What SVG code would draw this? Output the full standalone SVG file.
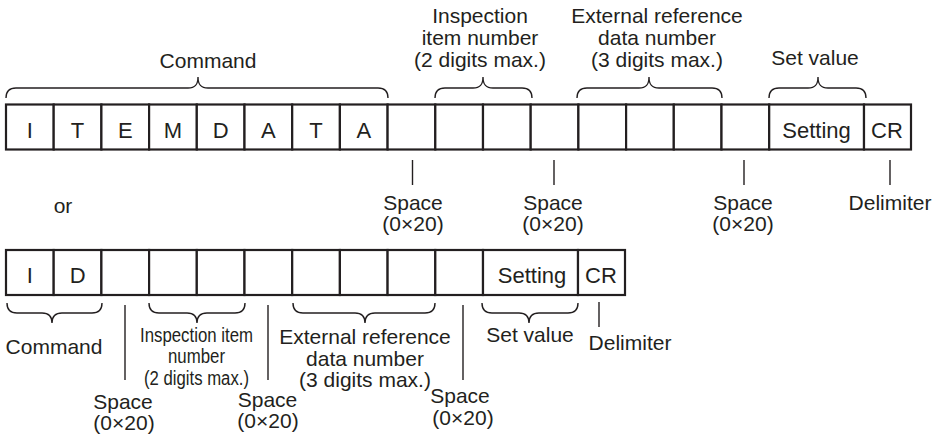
<svg xmlns="http://www.w3.org/2000/svg" width="935" height="440" viewBox="0 0 935 440">
<style>
text{font-family:"Liberation Sans",Arial,sans-serif;font-size:21px;fill:#231f20;text-anchor:middle}
.cell{fill:#fff;stroke:#231f20;stroke-width:2.2}
.ch{font-size:22px}
.br{fill:none;stroke:#231f20;stroke-width:1.4}
.tk{stroke:#231f20;stroke-width:1.4}
.nar{font-size:20px}
</style>
<rect width="935" height="440" fill="#fff"/>
<g id="record-long">
<rect class="cell" x="6" y="104.5" width="47.7" height="45"/>
<rect class="cell" x="53.7" y="104.5" width="47.7" height="45"/>
<rect class="cell" x="101.4" y="104.5" width="47.7" height="45"/>
<rect class="cell" x="149.1" y="104.5" width="47.7" height="45"/>
<rect class="cell" x="196.8" y="104.5" width="47.7" height="45"/>
<rect class="cell" x="244.5" y="104.5" width="47.7" height="45"/>
<rect class="cell" x="292.2" y="104.5" width="47.7" height="45"/>
<rect class="cell" x="339.9" y="104.5" width="47.7" height="45"/>
<rect class="cell" x="387.6" y="104.5" width="47.7" height="45"/>
<rect class="cell" x="435.3" y="104.5" width="47.7" height="45"/>
<rect class="cell" x="483" y="104.5" width="47.7" height="45"/>
<rect class="cell" x="530.7" y="104.5" width="47.7" height="45"/>
<rect class="cell" x="578.4" y="104.5" width="47.7" height="45"/>
<rect class="cell" x="626.1" y="104.5" width="47.7" height="45"/>
<rect class="cell" x="673.8" y="104.5" width="47.7" height="45"/>
<rect class="cell" x="721.5" y="104.5" width="47.7" height="45"/>
<rect class="cell" x="769.2" y="104.5" width="94.8" height="45"/>
<rect class="cell" x="864" y="104.5" width="47" height="45"/>
<text class="ch" x="29.9" y="137.5">I</text>
<text class="ch" x="77.6" y="137.5">T</text>
<text class="ch" x="125.3" y="137.5">E</text>
<text class="ch" x="173" y="137.5">M</text>
<text class="ch" x="220.7" y="137.5">D</text>
<text class="ch" x="268.4" y="137.5">A</text>
<text class="ch" x="316.1" y="137.5">T</text>
<text class="ch" x="363.8" y="137.5">A</text>
<text class="ch" x="816.5" y="138">Setting</text>
<text class="ch" x="887" y="138">CR</text>
</g>
<g id="record-short">
<rect class="cell" x="6" y="250" width="47.7" height="45"/>
<rect class="cell" x="53.7" y="250" width="47.7" height="45"/>
<rect class="cell" x="101.4" y="250" width="47.7" height="45"/>
<rect class="cell" x="149.1" y="250" width="47.7" height="45"/>
<rect class="cell" x="196.8" y="250" width="47.7" height="45"/>
<rect class="cell" x="244.5" y="250" width="47.7" height="45"/>
<rect class="cell" x="292.2" y="250" width="47.7" height="45"/>
<rect class="cell" x="339.9" y="250" width="47.7" height="45"/>
<rect class="cell" x="387.6" y="250" width="47.7" height="45"/>
<rect class="cell" x="435.3" y="250" width="47.7" height="45"/>
<rect class="cell" x="483" y="250" width="95" height="45"/>
<rect class="cell" x="578" y="250" width="47" height="45"/>
<text class="ch" x="29.9" y="282.5">I</text>
<text class="ch" x="77.6" y="282.5">D</text>
<text class="ch" x="532" y="283">Setting</text>
<text class="ch" x="601" y="283">CR</text>
</g>
<g id="connectors">
<path class="br" d="M6,98 C6,91 9,88 16,88 L188,88 C195,88 198,85 198,77 C198,85 201,88 208,88 L378,88 C385,88 388,91 388,98"/>
<path class="br" d="M435,98 C435,91 438,88 445,88 L473,88 C480,88 483,85 483,77 C483,85 486,88 493,88 L522,88 C529,88 532,91 532,98"/>
<path class="br" d="M577,98 C577,91 580,88 587,88 L639,88 C646,88 649,85 649,77 C649,85 652,88 659,88 L712,88 C719,88 722,91 722,98"/>
<path class="br" d="M769,98 C769,91 772,88 779,88 L808,88 C815,88 818,85 818,77 C818,85 821,88 828,88 L856,88 C863,88 866,91 866,98"/>
<line class="tk" x1="412.5" y1="160" x2="412.5" y2="185"/>
<line class="tk" x1="554" y1="160" x2="554" y2="185"/>
<line class="tk" x1="744" y1="160" x2="744" y2="185"/>
<line class="tk" x1="890" y1="160" x2="890" y2="185"/>
<path class="br" d="M7,303 C7,310 10,313 17,313 L42,313 C49,313 52,316 52,323 C52,316 55,313 62,313 L92,313 C99,313 102,310 102,303"/>
<path class="br" d="M149,303 C149,310 152,313 159,313 L187,313 C194,313 197,316 197,323 C197,316 200,313 207,313 L235,313 C242,313 245,310 245,303"/>
<path class="br" d="M293,303 C293,310 296,313 303,313 L355,313 C362,313 365,316 365,323 C365,316 368,313 375,313 L425,313 C432,313 435,310 435,303"/>
<path class="br" d="M482,303 C482,310 485,313 492,313 L519,313 C526,313 529,316 529,323 C529,316 532,313 539,313 L568,313 C575,313 578,310 578,303"/>
<line class="tk" x1="125" y1="305" x2="125" y2="380"/>
<line class="tk" x1="268" y1="305" x2="268" y2="380"/>
<line class="tk" x1="463" y1="305" x2="463" y2="380"/>
<line class="tk" x1="599" y1="302" x2="599" y2="327"/>
</g>
<g id="label-command-top"><text x="208" y="68">Command</text></g>
<g id="label-inspection-top">
<text x="480" y="23">Inspection</text>
<text x="480" y="45">item number</text>
<text x="480" y="67">(2 digits max.)</text>
</g>
<g id="label-extref-top">
<text x="657" y="23">External reference</text>
<text x="657" y="45">data number</text>
<text x="657" y="67">(3 digits max.)</text>
</g>
<g id="label-setvalue-top"><text x="815" y="65">Set value</text></g>
<g id="label-space1-top"><text x="413" y="210">Space</text><text x="413" y="231">(0×20)</text></g>
<g id="label-space2-top"><text x="553" y="210">Space</text><text x="553" y="231">(0×20)</text></g>
<g id="label-space3-top"><text x="743" y="210">Space</text><text x="743" y="231">(0×20)</text></g>
<g id="label-delimiter-top"><text x="890" y="210">Delimiter</text></g>
<g id="label-or"><text x="63" y="213">or</text></g>
<g id="label-command-bottom"><text x="54" y="354">Command</text></g>
<g id="label-inspection-bottom">
<text class="nar" x="196.5" y="342" textLength="113" lengthAdjust="spacingAndGlyphs">Inspection item</text>
<text class="nar" x="196.5" y="363" textLength="57" lengthAdjust="spacingAndGlyphs">number</text>
<text class="nar" x="196.5" y="385" textLength="105" lengthAdjust="spacingAndGlyphs">(2 digits max.)</text>
</g>
<g id="label-extref-bottom">
<text x="365" y="344">External reference</text>
<text x="365" y="366">data number</text>
<text x="365" y="387">(3 digits max.)</text>
</g>
<g id="label-setvalue-bottom"><text x="530" y="342">Set value</text></g>
<g id="label-delimiter-bottom"><text x="630" y="350">Delimiter</text></g>
<g id="label-space1-bottom"><text x="123" y="409">Space</text><text x="124" y="430">(0×20)</text></g>
<g id="label-space2-bottom"><text x="267.5" y="407">Space</text><text x="268" y="428">(0×20)</text></g>
<g id="label-space3-bottom"><text x="460" y="403">Space</text><text x="463" y="425">(0×20)</text></g>
</svg>
